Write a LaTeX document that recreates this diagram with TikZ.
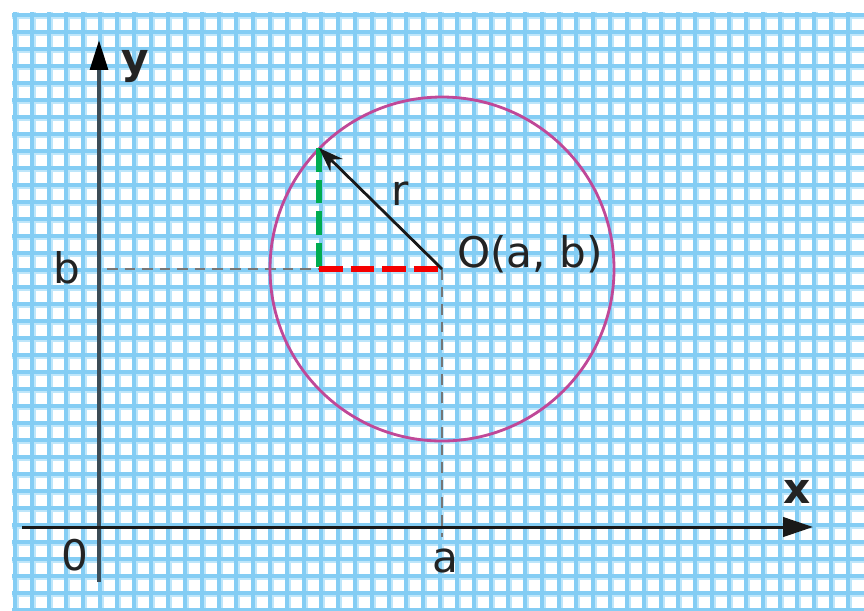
\documentclass[tikz,border=0pt]{standalone}
\usepackage{fontspec}
\setmainfont{DejaVu Sans}
\usetikzlibrary{arrows.meta}
\definecolor{gridcore}{RGB}{132,205,244}
\definecolor{gridhalo}{RGB}{190,230,250}
\definecolor{circpink}{RGB}{192,72,152}
\definecolor{axisgray}{RGB}{60,76,86}
\definecolor{dashgreen}{RGB}{0,172,80}
\definecolor{dashred}{RGB}{245,0,0}
\definecolor{guidegray}{RGB}{118,118,118}
\definecolor{labelink}{RGB}{35,35,35}
\tikzset{
  lbl/.style={font=\fontsize{24}{28}\selectfont, text=labelink, inner sep=0pt},
  guide/.style={guidegray, line width=1.1pt, dash pattern=on 6pt off 4pt},
  legdash/.style={line width=3pt, dash pattern=on 13.5pt off 4.5pt},
}
\begin{document}
\begin{tikzpicture}[x=0.02cm, y=-0.02cm]
  \useasboundingbox (0,0) rectangle (864,610);
  \fill[white] (0,0) rectangle (864,610);
  % Squared paper
  \begin{scope}
    \clip (12,12) rectangle (864,610);
    \foreach \k in {0,...,49} {
      \draw[gridhalo, line width=3.8pt] (16+17*\k,12) -- (16+17*\k,610);
    }
    \foreach \k in {0,...,35} {
      \draw[gridhalo, line width=3.8pt] (12,16+17*\k) -- (864,16+17*\k);
    }
    \foreach \k in {0,...,49} {
      \draw[gridcore, line width=2.3pt] (15+17*\k,12) -- (15+17*\k,610);
    }
    \foreach \k in {0,...,35} {
      \draw[gridcore, line width=2.3pt] (12,15+17*\k) -- (864,15+17*\k);
    }
  \end{scope}
  % Points
  \coordinate (yfoot) at (99,582);
  \coordinate (ytip) at (99,40);
  \coordinate (xfoot) at (22,527);
  \coordinate (xtip) at (813,527);
  \coordinate (O) at (442,269);
  \coordinate (P) at (319,148);
  \coordinate (foot) at (319,269);
  \coordinate (bmark) at (107,269);
  \coordinate (amark) at (442,537);
  % Guide lines to the axes
  \draw[guide] (bmark) -- (foot);
  \draw[guide] (O) -- (amark);
  % Axes
  \draw[axisgray, line width=2.3pt, -{Triangle[length=17pt, width=10pt, black]}] (yfoot) -- (ytip);
  \draw[black!90, line width=1.7pt, -{Triangle[length=17pt, width=11pt]}] (xfoot) -- (xtip);
  % Circle
  \draw[circpink, line width=1.6pt] (O) circle[radius=172];
  % Legs of the right triangle
  \draw[dashgreen, legdash] (P) -- (foot);
  \draw[dashred, legdash] (foot) -- (O);
  % Radius
  \draw[black!90, line width=1.6pt, -{Stealth[length=14pt, width=10pt]}] (O) -- (P);
  % Labels
  \node[lbl, anchor=base] (rlbl) at (400,205) {r};
  \node[lbl, anchor=base west] (olbl) at (457,267) {O(a, b)};
  \node[lbl, anchor=base] (blbl) at (67,283) {b};
  \node[lbl, anchor=base] (albl) at (445,572) {a};
  \node[lbl, anchor=base] (zlbl) at (75,570) {0};
  \node[lbl, anchor=base] (ylbl) at (135,73) {\bfseries y};
  \node[lbl, anchor=base] (xlbl) at (797,503) {\bfseries x};
\end{tikzpicture}
\end{document}
